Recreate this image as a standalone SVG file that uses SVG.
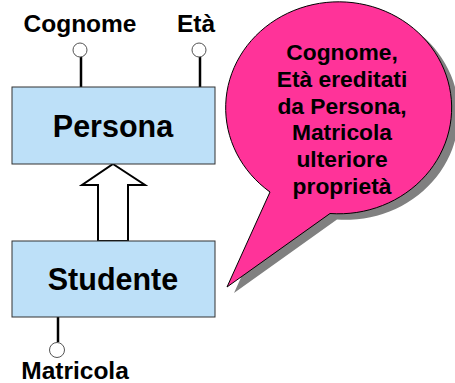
<svg xmlns="http://www.w3.org/2000/svg" width="455" height="383" viewBox="0 0 455 383">
<style>
text{font-family:"Liberation Sans",Arial,sans-serif;font-weight:bold;fill:#000;text-anchor:middle}
.lbl{font-size:24.5px}
.name{font-size:30.5px}
.call{font-size:22.8px}
.box{fill:#BDE0F8;stroke:#333;stroke-width:1}
.att{stroke:#000;stroke-width:2.5;fill:none}
.dot{fill:#fff;stroke:#555;stroke-width:1}
</style>
<defs>
<path id="bubble" d="M330,213.5 L227,287 L270,192 A113 106 0 1 1 330,213.5 Z"/>
</defs>
<g id="callout">
<use href="#bubble" transform="translate(7,6)" fill="#808080"/>
<use href="#bubble" fill="#FF3399" stroke="#000" stroke-width="1"/>
<text class="call" x="342" y="60">Cognome,</text>
<text class="call" x="342" y="86.8">Età ereditati</text>
<text class="call" x="342" y="113.6">da Persona,</text>
<text class="call" x="342" y="140.4">Matricola</text>
<text class="call" x="342" y="167.2">ulteriore</text>
<text class="call" x="342" y="194">proprietà</text>
</g>
<g id="connectors">
<line class="att" x1="81" y1="57" x2="81" y2="87"/>
<line class="att" x1="200" y1="57" x2="200" y2="87"/>
<line class="att" x1="58" y1="317" x2="58" y2="342"/>
<polygon points="113,164 145,185 128,185 128,241 98,241 98,185 82,185" fill="#fff" stroke="#000" stroke-width="2"/>
</g>
<g id="attr-cognome">
<circle class="dot" cx="80" cy="50" r="7"/>
<text class="lbl" x="80" y="31.5">Cognome</text>
</g>
<g id="attr-eta">
<circle class="dot" cx="199" cy="50" r="7"/>
<text class="lbl" x="196" y="31.5">Età</text>
</g>
<g id="persona">
<rect class="box" x="12" y="87" width="203" height="77"/>
<text class="name" x="113" y="137">Persona</text>
</g>
<g id="studente">
<rect class="box" x="12" y="241" width="203" height="76"/>
<text class="name" x="113" y="290">Studente</text>
</g>
<g id="attr-matricola">
<circle class="dot" cx="57" cy="350" r="7.5"/>
<text class="lbl" x="75" y="379">Matricola</text>
</g>
</svg>
